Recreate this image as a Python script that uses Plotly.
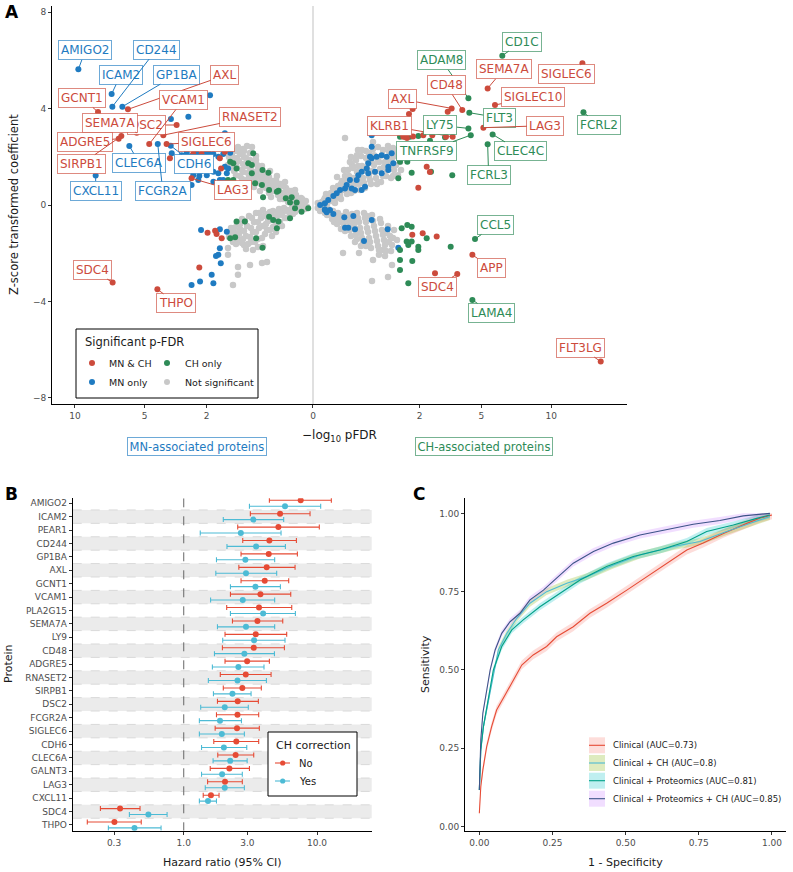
import numpy as np
import plotly.graph_objects as go

W, H = 793, 872
FONT = "DejaVu Sans"
RED, BLUE, GREEN, GREY = "#CC4B3C", "#1F7BC1", "#2E8B57", "#C8C8C8"
GROUP_COL = {"both": RED, "MN": BLUE, "CH": GREEN}
GROUP_BORDER = {"both": "rgba(204,75,60,0.65)", "MN": "rgba(31,123,193,0.65)", "CH": "rgba(46,139,87,0.65)"}


def xp(px):
    return px / W


def yp(py):
    return 1 - py / H


# ======================= Panel A data =======================
# (-log10 pFDR, z-score) pairs; MN side is drawn to the left, CH side to the right
mn_grey = [(0.009, 0.17), (0.014, 0.04), (0.025, 0.29), (0.035, 0.08), (0.051, 0.41), (0.064, 0.21), (0.085, 0.58),
           (0.102, 0.37), (0.110, 0.12), (0.129, 0.71), (0.148, 0.50), (0.159, 0.25), (0.181, 0.87), (0.204, 0.66),
           (0.216, 0.41), (0.241, 1.04), (0.268, 0.79), (0.282, 0.58), (0.311, 0.33), (0.341, 1.16), (0.357, 0.91),
           (0.390, 0.71), (0.423, 1.33), (0.441, 1.08), (0.477, 0.87), (0.495, 0.58), (0.534, 1.49), (0.553, 1.24),
           (0.593, 1.00), (0.614, 0.75), (0.656, 1.74), (0.678, 1.45), (0.722, 1.16), (0.745, 0.91), (0.792, 1.95),
           (0.815, 1.62), (0.864, 1.37), (0.889, 1.08), (0.940, 2.12), (0.966, 1.83), (1.019, 1.54), (1.046, 1.24),
           (1.101, 2.24), (1.129, 1.91), (1.186, 1.62), (1.244, 1.99), (0.768, 2.45), (0.656, 2.41), (0.992, 2.41),
           (0.459, 1.62), (0.326, 1.41), (0.229, 1.20), (0.573, 1.87), (0.840, 2.24), (0.138, 0.95), (0.057, 0.62),
           (0.021, 0.25), (0.045, 0.17), (0.071, 0.50), (0.078, 0.33), (0.119, 0.62), (0.129, 0.33), (0.170, 0.79),
           (0.181, 0.50), (0.192, 0.25), (0.229, 0.91), (0.255, 0.62), (0.296, 1.00), (0.326, 0.75), (0.341, 0.50),
           (0.373, 1.24), (0.406, 1.00), (0.423, 0.79), (0.459, 1.41), (0.495, 1.16), (0.514, 0.91), (0.553, 1.66),
           (0.573, 1.37), (0.614, 1.12), (0.635, 0.87), (0.700, 1.87), (0.722, 1.58), (0.745, 1.33), (0.768, 1.04),
           (0.840, 1.99), (0.864, 1.70), (0.889, 1.45), (0.940, 1.20), (0.992, 2.24), (1.019, 1.95), (1.046, 1.66),
           (1.101, 1.41), (1.157, 2.07), (1.186, 1.78), (1.274, 1.66), (0.864, 2.32), (0.700, 2.16), (0.573, 2.03),
           (0.006, -0.08), (0.018, -0.04), (0.025, -0.21), (0.045, -0.08), (0.057, -0.29), (0.078, -0.12),
           (0.093, -0.41), (0.119, -0.21), (0.138, -0.54), (0.159, -0.29), (0.192, -0.71), (0.204, -0.17),
           (0.229, -0.46), (0.255, -0.87), (0.282, -0.25), (0.311, -0.62), (0.326, -1.04), (0.357, -0.37),
           (0.390, -0.79), (0.406, -1.20), (0.441, -0.21), (0.477, -0.54), (0.514, -0.95), (0.534, -1.41),
           (0.573, -0.33), (0.614, -0.71), (0.635, -1.12), (0.678, -1.54), (0.722, -0.46), (0.768, -0.87),
           (0.792, -1.29), (0.840, -1.66), (0.889, -0.58), (0.940, -1.00), (0.966, -1.45), (1.019, -0.79),
           (1.073, -1.16), (1.129, -1.54), (1.186, -0.95), (1.244, -1.33), (1.274, -1.78), (1.274, -2.07),
           (0.889, -1.58), (0.700, -2.49), (0.992, -2.57), (0.992, -2.90), (1.129, -3.32), (0.373, -2.37),
           (0.459, -2.41), (0.534, -1.74), (0.296, -1.29), (0.441, -1.70), (0.170, -0.87), (0.241, -1.12),
           (0.011, -0.17), (0.035, -0.17), (0.064, -0.04), (0.071, -0.37), (0.102, -0.29), (0.119, -0.54),
           (0.148, -0.12), (0.170, -0.41), (0.216, -0.29), (0.229, -0.66), (0.268, -0.50), (0.282, -0.91),
           (0.326, -0.29), (0.357, -0.66), (0.373, -1.04), (0.423, -0.46), (0.441, -0.87), (0.459, -1.37),
           (0.514, -0.33), (0.534, -0.71), (0.573, -1.12), (0.593, -1.54), (0.656, -0.54), (0.678, -0.95),
           (0.700, -1.33), (0.745, -1.62), (0.815, -0.66), (0.840, -1.08), (0.864, -1.41), (0.940, -0.79),
           (0.966, -1.20), (1.046, -1.62), (1.101, -0.95), (1.157, -1.33), (1.215, -1.12), (0.792, -1.83),
           (0.635, -1.87)]

mn_red = [(2.53, 2.12), (2.19, 2.12), (1.53, 1.94), (1.37, 2.21), (1.49, 1.52), (3.61, 1.94), (1.96, -1.15),
          (1.69, -1.07), (1.64, -1.20), (2.28, -2.59), (1.47, -1.38)]

mn_blue = [(1.87, 4.56), (2.74, 3.66), (3.56, 3.57), (1.37, 2.98), (3.04, 2.07), (2.81, 2.17), (2.60, 2.03),
           (2.39, 2.15), (2.25, 2.00), (2.06, 2.12), (1.93, 2.17), (1.75, 2.12), (1.58, 2.00), (1.42, 2.12),
           (1.21, 2.17), (2.81, 1.66), (2.46, 1.59), (2.25, 1.38), (1.99, 1.24), (1.75, 1.38), (1.58, 1.32),
           (1.37, 1.59), (1.31, 1.32), (1.53, 1.04), (1.75, 0.97), (2.28, 1.20), (2.53, 1.24), (3.04, 0.83),
           (2.32, 1.04), (1.42, 1.04), (1.27, 1.52), (3.52, 2.15), (2.60, 0.83),
           (2.21, -1.04), (1.31, -1.11), (1.53, -1.01), (1.53, -1.80), (1.58, -2.07), (1.66, -2.12),
           (1.50, -2.42), (1.81, -2.90), (1.75, -3.25), (2.25, -3.18), (2.60, -3.32)]

mn_green = [(1.21, 1.80), (1.03, 1.52), (0.74, 1.73), (0.66, 1.66), (0.66, 1.32), (0.45, 1.45), (0.35, 1.34),
            (0.59, 0.90), (0.46, 0.83), (0.34, 0.62), (0.21, 0.59), (0.13, 0.28), (0.08, 0.32), (0.047, 0.10),
            (0.093, 0.10), (0.44, 0.32), (1.27, 1.04), (1.12, 1.04), (0.004, -0.14), (0.057, -0.14),
            (0.23, 0.55), (0.63, 2.15), (1.12, 1.73),
            (1.03, -0.69), (0.82, -0.69), (1.21, -1.38), (1.07, -1.34), (0.57, -1.38), (0.45, -1.77),
            (0.34, -0.49), (0.28, -0.62), (0.21, -0.69), (0.23, -0.97), (0.093, -0.55), (0.023, -0.28)]

ch_grey = [(0.004, 0.08), (0.011, -0.04), (0.021, 0.21), (0.035, 0.04), (0.045, 0.37), (0.064, 0.17), (0.078, 0.54),
           (0.093, 0.29), (0.110, 0.79), (0.129, 0.41), (0.148, 1.00), (0.159, 0.62), (0.181, 1.20), (0.204, 0.46),
           (0.216, 1.45), (0.241, 0.83), (0.268, 1.66), (0.282, 1.12), (0.296, 0.58), (0.326, 1.87), (0.341, 1.37),
           (0.373, 0.87), (0.406, 2.03), (0.423, 1.62), (0.441, 1.12), (0.477, 0.71), (0.495, 2.24), (0.534, 1.83),
           (0.553, 1.20), (0.593, 0.87), (0.635, 2.32), (0.656, 1.66), (0.700, 1.12), (0.745, 2.41), (0.768, 1.78),
           (0.815, 0.95), (0.864, 2.28), (0.889, 1.58), (0.940, 1.20), (0.992, 2.45), (1.019, 1.87), (1.073, 1.12),
           (1.129, 2.37), (1.157, 1.45), (1.215, 2.03), (1.274, 1.24), (0.181, 2.78), (0.635, 2.61), (1.046, 3.20),
           (0.357, 2.28), (0.255, 1.99), (0.102, 1.16), (0.030, 0.46), (0.614, 1.41), (0.390, 0.62), (1.335, 1.78),
           (0.006, -0.04), (0.014, 0.12), (0.025, 0.29), (0.040, 0.21), (0.057, 0.50), (0.071, 0.71), (0.085, 0.08),
           (0.119, 0.58), (0.138, 0.25), (0.138, 0.87), (0.170, 1.45), (0.192, 1.00), (0.192, 0.66), (0.229, 1.20),
           (0.241, 1.78), (0.255, 0.50), (0.282, 1.54), (0.311, 0.87), (0.341, 2.07), (0.357, 1.62), (0.390, 1.12),
           (0.423, 2.28), (0.441, 1.41), (0.459, 0.91), (0.495, 1.95), (0.514, 1.54), (0.553, 2.16), (0.573, 1.04),
           (0.614, 1.74), (0.656, 2.07), (0.678, 1.37), (0.722, 0.87), (0.745, 1.87), (0.792, 1.49), (0.840, 2.07),
           (0.864, 1.20), (0.914, 1.78), (0.966, 1.45), (1.019, 2.24), (1.046, 1.62), (1.101, 1.95), (1.129, 1.20),
           (1.186, 2.28), (1.215, 1.66), (1.304, 2.16), (1.366, 1.45),
           (0.004, -0.12), (0.014, -0.21), (0.025, -0.33), (0.040, -0.17), (0.057, -0.41), (0.071, -0.25),
           (0.093, -0.58), (0.110, -0.33), (0.129, -0.71), (0.148, -0.46), (0.170, -0.83), (0.192, -0.29),
           (0.216, -0.62), (0.241, -1.04), (0.268, -0.37), (0.296, -0.79), (0.326, -1.20), (0.357, -0.54),
           (0.390, -0.95), (0.423, -1.37), (0.459, -0.33), (0.495, -0.71), (0.534, -1.12), (0.573, -1.54),
           (0.614, -0.41), (0.656, -0.87), (0.700, -1.29), (0.745, -1.70), (0.792, -0.58), (0.840, -1.04),
           (0.889, -1.45), (0.940, -1.91), (0.992, -0.87), (1.046, -1.29), (1.101, -1.66), (0.914, -2.12),
           (0.768, -2.07), (0.159, -1.99), (0.373, -1.99), (0.614, -3.15), (1.101, -2.49), (0.992, -2.99),
           (0.864, -1.87), (0.635, -2.28), (0.495, -1.70), (0.311, -1.54), (0.406, -1.70), (1.244, -1.45),
           (0.078, -0.71), (1.157, -1.04),
           (0.009, -0.25), (0.021, -0.12), (0.035, -0.41), (0.051, -0.25), (0.064, -0.58), (0.085, -0.37),
           (0.102, -0.79), (0.119, -0.50), (0.138, -1.00), (0.159, -0.62), (0.181, -1.08), (0.204, -0.46),
           (0.229, -0.83), (0.255, -1.29), (0.282, -0.62), (0.311, -1.00), (0.341, -1.41), (0.373, -0.71),
           (0.406, -1.16), (0.441, -1.58), (0.477, -0.54), (0.514, -0.95), (0.553, -1.37), (0.593, -1.78),
           (0.635, -0.66), (0.678, -1.08), (0.722, -1.49), (0.768, -1.87), (0.815, -0.75), (0.864, -1.24),
           (0.914, -1.66), (0.966, -1.16), (1.019, -1.54), (1.073, -1.91), (1.129, -1.37), (0.514, -0.46),
           (0.341, -0.33)]

ch_red = [(3.20, 3.87), (1.753, 3.98), (1.625, 3.78), (1.438, 2.83), (1.558, 2.78), (1.764, 2.84), (2.146, 2.90),
          (2.51, 2.90), (3.12, 2.83), (2.28, 1.59), (1.956, 0.72), (2.41, 1.37),
          (1.739, -1.24), (2.122, -1.17), (2.698, -1.31), (2.625, -2.83)]

ch_blue = [(0.009, 0.0), (0.025, 0.07), (0.041, 0.21), (0.073, 0.37), (0.099, 0.49), (0.129, 0.62), (0.181, 0.69),
           (0.200, 0.83), (0.241, 1.04), (0.337, 1.04), (0.362, 1.24), (0.418, 1.38), (0.509, 1.52), (0.539, 1.73),
           (0.608, 1.94), (0.716, 2.00), (0.832, 2.07), (0.958, 2.00), (1.092, 2.15), (1.137, 1.73), (1.0, 1.45),
           (0.832, 1.32), (0.678, 1.38), (0.539, 1.32), (0.477, 0.76), (0.418, 0.62), (0.311, 0.62), (0.608, 2.42),
           (0.608, 2.90), (0.051, -0.21), (0.025, -0.21), (0.573, 2.00), (1.0, 1.59), (0.264, 0.69),
           (1.284, -1.77), (0.984, -1.01), (0.608, -0.62), (0.459, -1.49), (0.311, -1.01), (0.181, -0.94),
           (0.220, -0.94), (0.287, -0.46), (0.173, -0.51), (0.073, -0.37), (0.033, -0.30), (0.025, -0.18)]

ch_green = [(1.335, 2.83), (1.493, 2.83), (1.66, 2.83), (1.956, 2.86), (2.414, 2.67), (3.073, 2.81), (1.335, 1.80),
            (1.568, 1.80), (1.717, 1.34), (1.284, 1.11), (2.456, 1.38), (3.42, 1.24),
            (1.387, -0.97), (1.568, -0.83), (1.717, -0.90), (1.547, -1.52), (1.602, -1.66), (1.717, -1.52),
            (1.956, -1.73), (1.956, -1.87), (1.335, -1.87), (1.335, -2.28), (1.335, -2.70), (1.739, -2.32),
            (1.602, -3.25), (2.28, -1.38), (3.344, -1.73)]

# labelled proteins
mn_label_names = ["AMIGO2", "ICAM2", "CD244", "GP1BA", "AXL", "GCNT1", "DSC2", "SEMA7A", "VCAM1", "RNASET2",
                  "ADGRE5", "SIRPB1", "SIGLEC6", "CLEC6A", "CDH6", "LAG3", "FCGR2A", "CXCL11", "SDC4", "THPO"]
mn_label_group = ["MN", "MN", "MN", "MN", "both", "both", "both", "both", "both", "both",
                  "both", "both", "both", "MN", "MN", "both", "MN", "MN", "both", "both"]
mn_label_logp = [9.71, 7.15, 7.10, 6.41, 6.04, 8.15, 3.28, 5.48, 4.73, 3.95,
                 6.66, 6.48, 3.78, 5.95, 3.57, 2.60, 4.25, 8.33, 7.08, 4.27]
mn_label_z = [5.63, 4.61, 4.08, 4.08, 3.97, 3.86, 3.32, 3.00, 2.53, 2.90,
              2.75, 2.86, 2.53, 2.45, 2.46, 1.11, 2.53, 1.22, -3.22, -3.50]

ch_label_names = ["CD1C", "ADAM8", "SEMA7A", "SIGLEC6", "CD48", "SIGLEC10", "AXL", "FLT3", "FCRL2", "LAG3",
                  "KLRB1", "LY75", "TNFRSF9", "CLEC4C", "FCRL3", "CCL5", "APP", "SDC4", "LAMA4", "FLT3LG"]
ch_label_group = ["CH", "CH", "both", "both", "both", "both", "both", "CH", "CH", "both",
                  "both", "CH", "CH", "CH", "CH", "CH", "both", "both", "CH", "both"]
ch_label_logp = [6.32, 4.26, 5.38, 12.8, 3.93, 5.84, 3.39, 4.31, 12.9, 5.12,
                 3.44, 4.26, 4.39, 5.69, 5.38, 4.63, 4.48, 3.67, 4.48, 14.6]
ch_label_z = [6.20, 4.43, 4.84, 5.88, 3.94, 4.15, 4.01, 3.83, 3.85, 3.21,
              2.83, 3.18, 2.90, 2.93, 2.52, -1.41, -2.07, -2.86, -3.94, -6.50]

pfdr_tick_labels = [10, 5, 2, 0, 2, 5, 10]
pfdr_tick_sides = [-1, -1, -1, 0, 1, 1, 1]
z_ticks = [-8, -4, 0, 4, 8]

# label box offsets (pixels, relative to the point) -- layout only
MN_OFF = {"AMIGO2": (7, -19), "ICAM2": (9, -19), "CD244": (44, -57), "GP1BA": (54, -32), "AXL": (97, -34),
          "GCNT1": (-16, -14), "DSC2": (-30, 0), "SEMA7A": (-27, -10), "VCAM1": (34, -44), "RNASET2": (87, -18),
          "ADGRE5": (-34, 3), "SIRPB1": (-40, 28), "SIGLEC6": (40, -2), "CLEC6A": (10, 17), "CDH6": (23, 18),
          "LAG3": (41, 12), "FCGR2A": (5, 47), "CXCL11": (0, 15), "SDC4": (-20, -13), "THPO": (19, 14)}
CH_OFF = {"CD1C": (20, -14), "ADAM8": (-27, -38), "SEMA7A": (16, -19), "SIGLEC6": (-16, 11), "CD48": (-16, -25),
          "SIGLEC10": (38, -8), "AXL": (-49, -9), "FLT3": (30, 5), "FCRL2": (16, 13), "LAG3": (62, -2),
          "KLRB1": (-63, -11), "LY75": (-28, -3), "TNFRSF9": (-44, 16), "CLEC4C": (28, 17), "FCRL3": (1, 31),
          "CCL5": (20, -14), "APP": (19, 13), "SDC4": (-20, 13), "LAMA4": (19, 13), "FLT3LG": (-20, -14)}

# ======================= Panel B data =======================
proteins = ["AMIGO2", "ICAM2", "PEAR1", "CD244", "GP1BA", "AXL", "GCNT1", "VCAM1", "PLA2G15", "SEMA7A", "LY9",
            "CD48", "ADGRE5", "RNASET2", "SIRPB1", "DSC2", "FCGR2A", "SIGLEC6", "CDH6", "CLEC6A", "GALNT3", "LAG3",
            "CXCL11", "SDC4", "THPO"]
hr_no = [7.54, 5.28, 5.13, 4.39, 4.34, 4.19, 4.05, 3.76, 3.67, 3.57, 3.47, 3.35, 2.99, 2.92, 2.75, 2.54, 2.53,
         2.51, 2.48, 2.45, 2.20, 2.04, 1.60, 0.333, 0.302]
lo_no = [4.39, 3.16, 2.54, 2.77, 2.69, 2.59, 2.69, 2.24, 2.10, 2.32, 2.04, 1.95, 2.04, 1.88, 1.98, 1.79, 1.76,
         1.72, 1.68, 1.80, 1.58, 1.51, 1.40, 0.237, 0.189]
hi_no = [12.8, 8.86, 10.4, 7.00, 7.12, 6.84, 6.13, 6.35, 6.46, 5.53, 5.92, 5.69, 4.39, 4.52, 3.82, 3.63, 3.65,
         3.69, 3.65, 3.35, 3.11, 2.75, 1.84, 0.47, 0.48]
hr_yes = [5.75, 3.33, 2.68, 3.49, 2.90, 2.93, 3.45, 2.77, 3.94, 2.93, 3.37, 2.85, 2.57, 2.53, 2.32, 2.03, 1.87,
          1.93, 2.00, 2.23, 1.94, 2.03, 1.52, 0.543, 0.427]
lo_yes = [3.11, 1.98, 1.33, 2.11, 1.76, 1.74, 2.24, 1.59, 2.24, 1.79, 1.96, 1.70, 1.64, 1.53, 1.67, 1.34, 1.31,
          1.31, 1.36, 1.66, 1.36, 1.45, 1.31, 0.391, 0.272]
hi_yes = [10.65, 5.62, 5.37, 5.79, 4.81, 4.98, 5.31, 4.81, 6.88, 4.81, 5.75, 4.79, 4.00, 4.17, 3.20, 3.05, 2.71,
          2.85, 2.97, 2.99, 2.75, 2.85, 1.76, 0.75, 0.676]
hr_ticks = [0.3, 1.0, 3.0, 10.0]
hr_tick_text = ["0.3", "1.0", "3.0", "10.0"]

# ======================= Panel C data =======================
roc_names = ["Clinical (AUC=0.73)", "Clinical + CH (AUC=0.8)", "Clinical + Proteomics (AUC=0.81)",
             "Clinical + Proteomics + CH (AUC=0.85)"]
fpr_clin = [0.0, 0.005, 0.012, 0.025, 0.042, 0.059, 0.088, 0.116, 0.145, 0.184, 0.230, 0.264, 0.321, 0.378,
            0.435, 0.504, 0.572, 0.640, 0.709, 0.765, 0.834, 0.914, 0.960, 1.0]
tpr_clin = [0.043, 0.128, 0.181, 0.255, 0.319, 0.372, 0.420, 0.468, 0.516, 0.548, 0.575, 0.606, 0.638, 0.681,
            0.713, 0.755, 0.798, 0.841, 0.883, 0.905, 0.936, 0.968, 0.985, 0.995]
fpr_ch = [0.0, 0.005, 0.014, 0.031, 0.050, 0.065, 0.094, 0.128, 0.173, 0.230, 0.299, 0.367, 0.458, 0.549, 0.663,
          0.754, 0.845, 0.925, 0.993]
tpr_ch = [0.117, 0.245, 0.319, 0.404, 0.500, 0.564, 0.617, 0.665, 0.713, 0.750, 0.777, 0.798, 0.835, 0.867, 0.894,
          0.910, 0.942, 0.968, 0.990]
fpr_prot = [0.0, 0.005, 0.014, 0.031, 0.048, 0.0765, 0.111, 0.150, 0.207, 0.276, 0.344, 0.435, 0.526, 0.617,
            0.709, 0.777, 0.868, 0.948, 0.993]
tpr_prot = [0.117, 0.245, 0.319, 0.404, 0.500, 0.575, 0.628, 0.660, 0.702, 0.745, 0.787, 0.830, 0.862, 0.883,
            0.910, 0.942, 0.963, 0.984, 0.995]
fpr_all = [0.0, 0.005, 0.012, 0.025, 0.037, 0.054, 0.0765, 0.105, 0.139, 0.173, 0.219, 0.264, 0.321, 0.390, 0.458,
           0.549, 0.640, 0.731, 0.822, 0.902, 0.993]
tpr_all = [0.117, 0.277, 0.362, 0.436, 0.500, 0.564, 0.617, 0.654, 0.681, 0.724, 0.755, 0.793, 0.841, 0.878,
           0.905, 0.931, 0.949, 0.965, 0.977, 0.992, 1.0]
ci_halfwidth = [0.014, 0.011, 0.011, 0.011]
roc_ticks = [0.0, 0.25, 0.5, 0.75, 1.0]
roc_tick_text = ["0.00", "0.25", "0.50", "0.75", "1.00"]

ROC_LINE = ["#E64B35", "#4DBBD5", "#00A087", "#3C5488"]
ROC_FILL = ["rgba(248,118,109,0.25)", "rgba(124,174,0,0.25)", "rgba(0,191,196,0.25)", "rgba(199,124,255,0.25)"]
NO_COL, YES_COL = "#E64B35", "#4DBBD5"

fig = go.Figure()


# ----------------------- Panel A -----------------------
def side_xy(pairs, sign):
    return [sign * np.sqrt(v) for v, z in pairs], [z for v, z in pairs]


def add_pts(pairs, sign, color, size=6):
    x, y = side_xy(pairs, sign)
    fig.add_trace(go.Scatter(x=x, y=y, mode="markers", xaxis="x", yaxis="y", hoverinfo="skip",
                             marker=dict(size=size, color=color, line=dict(width=0))))


add_pts(mn_grey, -1, GREY, 6.5)
add_pts(ch_grey, 1, GREY, 6.5)
add_pts(mn_blue, -1, BLUE)
add_pts(ch_blue, 1, BLUE)
add_pts(mn_green, -1, GREEN)
add_pts(ch_green, 1, GREEN)
add_pts(mn_red, -1, RED)
add_pts(ch_red, 1, RED)

annotations = []
for names, groups, logp, zs, sign, offs in (
        (mn_label_names, mn_label_group, mn_label_logp, mn_label_z, -1, MN_OFF),
        (ch_label_names, ch_label_group, ch_label_logp, ch_label_z, 1, CH_OFF)):
    for g in ("MN", "CH", "both"):
        xs = [sign * np.sqrt(p) for p, gg in zip(logp, groups) if gg == g]
        ys = [z for z, gg in zip(zs, groups) if gg == g]
        if xs:
            fig.add_trace(go.Scatter(x=xs, y=ys, mode="markers", xaxis="x", yaxis="y", hoverinfo="skip",
                                     marker=dict(size=6, color=GROUP_COL[g], line=dict(width=0))))
    for n, g, p, z in zip(names, groups, logp, zs):
        dx, dy = offs[n]
        annotations.append(dict(
            x=sign * np.sqrt(p), y=z, xref="x", yref="y", text=n, showarrow=True, ax=dx, ay=dy,
            arrowhead=0, arrowwidth=1, arrowcolor=GROUP_COL[g], standoff=0,
            font=dict(family=FONT, size=12, color=GROUP_COL[g]), bgcolor="white",
            bordercolor=GROUP_BORDER[g], borderwidth=1, borderpad=2))

# ----------------------- Panel B -----------------------
rows = list(range(len(proteins)))
fig.add_trace(go.Scatter(x=[1, 1], y=[-0.37, 24.43], mode="lines", xaxis="x2", yaxis="y2", hoverinfo="skip",
                         line=dict(color="#666666", width=1, dash="dash")))
for hr, lo, hi, col, off in ((hr_no, lo_no, hi_no, NO_COL, -0.22), (hr_yes, lo_yes, hi_yes, YES_COL, 0.22)):
    fig.add_trace(go.Scatter(
        x=hr, y=[r + off for r in rows], mode="markers", xaxis="x2", yaxis="y2", hoverinfo="skip",
        marker=dict(size=6, color=col),
        error_x=dict(type="data", symmetric=False, array=[h - m for h, m in zip(hi, hr)],
                     arrayminus=[m - l for m, l in zip(hr, lo)], color=col, thickness=1.1, width=2.5)))

# ----------------------- Panel C -----------------------
rocs = [(fpr_clin, tpr_clin), (fpr_ch, tpr_ch), (fpr_prot, tpr_prot), (fpr_all, tpr_all)]
for (f, t), w, fc in zip(rocs, ci_halfwidth, ROC_FILL):
    up = [min(v + w, 1.0) for v in t]
    lo = [max(v - w, 0.0) for v in t]
    fig.add_trace(go.Scatter(x=f + f[::-1], y=up + lo[::-1], mode="lines", fill="toself", fillcolor=fc,
                             line=dict(width=0), xaxis="x3", yaxis="y3", hoverinfo="skip"))
for (f, t), lc, nm in zip(rocs, ROC_LINE, roc_names):
    fig.add_trace(go.Scatter(x=f, y=t, mode="lines", line=dict(color=lc, width=1.1), name=nm,
                             xaxis="x3", yaxis="y3", hoverinfo="skip"))

# ----------------------- shapes -----------------------
shapes = [dict(type="line", xref="x", yref="y domain", x0=0, x1=0, y0=0, y1=1,
               line=dict(color="#D6D6D6", width=1.5), layer="below")]
for i in rows:
    if i % 2 == 1:
        shapes.append(dict(type="rect", xref="x2 domain", yref="y2", x0=0, x1=1, y0=i - 0.5, y1=i + 0.5,
                           fillcolor="#EBEBEB", line=dict(width=0), layer="below"))
        for yy in (i - 0.5, i + 0.5):
            shapes.append(dict(type="line", xref="x2 domain", yref="y2", x0=0, x1=1, y0=yy, y1=yy,
                               line=dict(color="#D9D9D9", width=1, dash="dash"), layer="below"))


def paper_rect(x0, y0, x1, y1, **kw):
    d = dict(type="rect", xref="paper", yref="paper", x0=xp(x0), x1=xp(x1), y0=yp(y1), y1=yp(y0))
    d.update(kw)
    return d


def paper_circle(cx, cy, r, col):
    return dict(type="circle", xref="paper", yref="paper", x0=xp(cx - r), x1=xp(cx + r), y0=yp(cy + r),
                y1=yp(cy - r), fillcolor=col, line=dict(width=0))


def text(x, y, s, size=10, color="#1A1A1A", xanchor="left", yanchor="middle", angle=0, **kw):
    d = dict(x=xp(x), y=yp(y), xref="paper", yref="paper", text=s, showarrow=False, xanchor=xanchor,
             yanchor=yanchor, textangle=angle, font=dict(family=FONT, size=size, color=color))
    d.update(kw)
    return d


# Panel A legend
shapes.append(paper_rect(76, 329, 258, 398, fillcolor="white", line=dict(color="black", width=1)))
for cx, cy, col in ((92, 363, RED), (167, 363, GREEN), (92, 382, BLUE), (167, 382, GREY)):
    shapes.append(paper_circle(cx, cy, 3, col))
annotations += [text(83, 342, "Significant p-FDR", size=11.5),
                text(107, 363, "MN &amp; CH", size=9.5), text(183, 363, "CH only", size=9.5),
                text(107, 382, "MN only", size=9.5), text(183, 382, "Not significant", size=9.5)]

# Panel B legend
shapes.append(paper_rect(268, 732, 357, 796, fillcolor="white", line=dict(color="black", width=1)))
for cy, col in ((763, NO_COL), (781, YES_COL)):
    shapes.append(dict(type="line", xref="paper", yref="paper", x0=xp(275), x1=xp(290), y0=yp(cy), y1=yp(cy),
                       line=dict(color=col, width=1.1)))
    shapes.append(paper_circle(282.7, cy, 2.6, col))
annotations += [text(273.5, 745, "CH correction", size=11), text(297, 763, "No", size=10),
                text(297, 781, "Yes", size=10)]

# Panel C legend
for k, cy in enumerate((745.3, 763, 780.7, 798.7)):
    shapes.append(paper_rect(589, cy - 8, 605, cy + 8, fillcolor=ROC_FILL[k], line=dict(width=0)))
    shapes.append(dict(type="line", xref="paper", yref="paper", x0=xp(589), x1=xp(605), y0=yp(cy), y1=yp(cy),
                       line=dict(color=ROC_LINE[k], width=1.1)))
    annotations.append(text(611, cy, roc_names[k], size=8.5))

# panel letters and titles
annotations += [
    text(3, 12, "<b>A</b>", size=17, color="black"),
    text(3, 494, "<b>B</b>", size=17, color="black"),
    text(411, 494, "<b>C</b>", size=17, color="black"),
    text(14, 205, "Z-score transformed coefficient", size=11.5, xanchor="center", angle=-90),
    text(339.5, 436, "\u2212log<sub>10</sub> pFDR", size=12, xanchor="center"),
    text(197, 446, "MN-associated proteins", size=11.5, color=BLUE, xanchor="center",
         bgcolor="white", bordercolor="rgba(31,123,193,0.65)", borderwidth=1, borderpad=1.5),
    text(484, 446, "CH-associated proteins", size=11.5, color=GREEN, xanchor="center",
         bgcolor="white", bordercolor="rgba(46,139,87,0.65)", borderwidth=1, borderpad=1.5),
    text(8, 664, "Protein", size=11, xanchor="center", angle=-90),
    text(222, 862, "Hazard ratio (95% CI)", size=11, xanchor="center"),
    text(425, 664, "Sensitivity", size=11, xanchor="center", angle=-90),
    text(625.5, 862, "1 - Specificity", size=11, xanchor="center"),
]

AX = dict(showline=True, linecolor="black", linewidth=1, ticks="outside", ticklen=3, tickwidth=1,
          tickcolor="#333333", tickfont=dict(family=FONT, size=9, color="#4D4D4D"), showgrid=False,
          zeroline=False, mirror=False)

fig.update_layout(
    width=W, height=H, margin=dict(l=0, r=0, t=0, b=0), autosize=False,
    paper_bgcolor="white", plot_bgcolor="white", showlegend=False,
    font=dict(family=FONT, size=10, color="#1A1A1A"),
    xaxis=dict(AX, domain=[xp(52), xp(627)], range=[-3.466, 4.170], anchor="y",
               tickvals=[s * np.sqrt(v) for s, v in zip(pfdr_tick_sides, pfdr_tick_labels)],
               ticktext=[str(v) for v in pfdr_tick_labels]),
    yaxis=dict(AX, domain=[yp(404), yp(6)], range=[-8.26, 8.26], anchor="x", tickvals=z_ticks),
    xaxis2=dict(AX, domain=[xp(72.7), xp(371.7)], type="log", range=[-0.833, 1.41], anchor="y2",
                tickvals=hr_ticks, ticktext=hr_tick_text),
    yaxis2=dict(AX, domain=[yp(830.7), yp(498.3)], range=[24.43, -0.37], anchor="x2",
                tickvals=rows, ticktext=proteins),
    xaxis3=dict(AX, domain=[xp(465), xp(786)], range=[-0.049, 1.048], anchor="y3",
                tickvals=roc_ticks, ticktext=roc_tick_text),
    yaxis3=dict(AX, domain=[yp(830.7), yp(498)], range=[-0.013, 1.049], anchor="x3",
                tickvals=roc_ticks, ticktext=roc_tick_text),
    shapes=shapes, annotations=annotations,
)

fig.write_html("out.html", config={"displayModeBar": False},
               post_script="document.body.style.margin='0';document.body.style.overflow='hidden';")
